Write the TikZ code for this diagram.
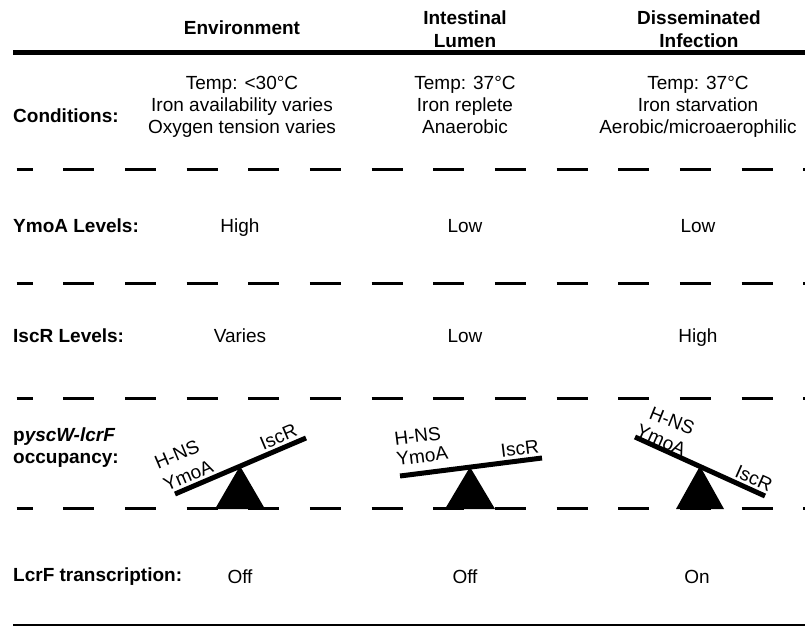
\documentclass[tikz,border=0pt]{standalone}
\usepackage{fontspec}
\setmainfont{Liberation Sans}
\begin{document}
\begin{tikzpicture}[x=1pt,y=-1pt,
  txt/.style={inner sep=0pt, font=\fontsize{19}{22}\selectfont, align=center},
  val/.style={inner sep=0pt, font=\fontsize{19}{22}\selectfont, anchor=base},
  lab/.style={inner sep=0pt, font=\fontsize{19}{22}\selectfont\bfseries, anchor=base west},
  lab2/.style={inner sep=0pt, font=\fontsize{19}{22}\selectfont\bfseries, anchor=west, align=left},
  hdr/.style={inner sep=0pt, font=\fontsize{19}{23}\selectfont\bfseries, align=center},
  dashrule/.style={line width=3pt, dash pattern=on 31pt off 30.65pt, dash phase=15pt},
  beam/.style={line width=5pt},
  fulcrum/.style={fill=black, draw=none},
  tag/.style={inner sep=0pt, font=\fontsize{19}{22}\selectfont, anchor=base}
]
\useasboundingbox (0,0) rectangle (805,626);

% headers
\node[hdr, anchor=base] (h1) at (242,34.8) {Environment};
\node[hdr] (h2) at (465,31.2) {\strut Intestinal\\\strut Lumen};
\node[hdr] (h3) at (699,31.2) {\strut Disseminated\\\strut Infection};
\draw[line width=4.5pt] (13,52.5) -- (805,52.5);

% conditions
\node[lab] (lc) at (13,122.8) {Conditions:};
\node[txt] (c1) at (242,107.4) {\strut Temp: <30°C\\\strut Iron availability varies\\\strut Oxygen tension varies};
\node[txt] (c2) at (465,107.4) {\strut Temp: 37°C\\\strut Iron replete\\\strut Anaerobic};
\node[txt] (c3) at (698,107.4) {\strut Temp: 37°C\\\strut Iron starvation\\\strut Aerobic/microaerophilic};
\draw[dashrule] (16.7,169) -- (805,169);

% YmoA
\node[lab] (ly) at (13,232.8) {YmoA Levels:};
\node[val] (y1) at (240,232.8) {High};
\node[val] (y2) at (465,232.8) {Low};
\node[val] (y3) at (698,232.8) {Low};
\draw[dashrule] (16.7,283.5) -- (805,283.5);

% IscR
\node[lab] (li) at (13,342.8) {IscR Levels:};
\node[val] (i1) at (240,342.8) {Varies};
\node[val] (i2) at (465,342.8) {Low};
\node[val] (i3) at (698,342.8) {High};
\draw[dashrule] (16.7,398) -- (805,398);

% occupancy
\node[lab2] (lo) at (13,448.4) {\strut p\textit{yscW-lcrF}\\\strut occupancy:};

% seesaw 1
\coordinate (b1a) at (175,494); \coordinate (b1b) at (306,438);
\fill[fulcrum] (240,466) -- (265,509) -- (215,509) -- cycle;
\draw[beam] (b1a) -- (b1b);
\node[tag, rotate=23] (s1h) at (179.4,460.5) {H-NS};
\node[tag, rotate=23] (s1y) at (190.7,481.2) {YmoA};
\node[tag, rotate=23] (s1i) at (280.9,442.7) {IscR};

% seesaw 2
\coordinate (b2a) at (400,476); \coordinate (b2b) at (542,458);
\fill[fulcrum] (470,467) -- (495,509) -- (445,509) -- cycle;
\draw[beam] (b2a) -- (b2b);
\node[tag, rotate=7] (s2h) at (418.3,442.4) {H-NS};
\node[tag, rotate=7] (s2y) at (423,462.5) {YmoA};
\node[tag, rotate=7] (s2i) at (520.5,454.8) {IscR};

% seesaw 3
\coordinate (b3a) at (635,437); \coordinate (b3b) at (765,496);
\fill[fulcrum] (700,466) -- (724,509) -- (676,509) -- cycle;
\draw[beam] (b3a) -- (b3b);
\node[tag, rotate=-22] (s3h) at (669.6,427) {H-NS};
\node[tag, rotate=-24] (s3y) at (658.6,446) {YmoA};
\node[tag, rotate=-24] (s3i) at (751.2,484.5) {IscR};

\draw[dashrule] (16.7,508) -- (805,508);

% LcrF
\node[lab] (ll) at (13,581.8) {LcrF transcription:};
\node[val] (l1) at (240,583.8) {Off};
\node[val] (l2) at (465,583.8) {Off};
\node[val] (l3) at (697,583.8) {On};
\draw[line width=2pt] (13,625) -- (805,625);
\end{tikzpicture}
\end{document}
